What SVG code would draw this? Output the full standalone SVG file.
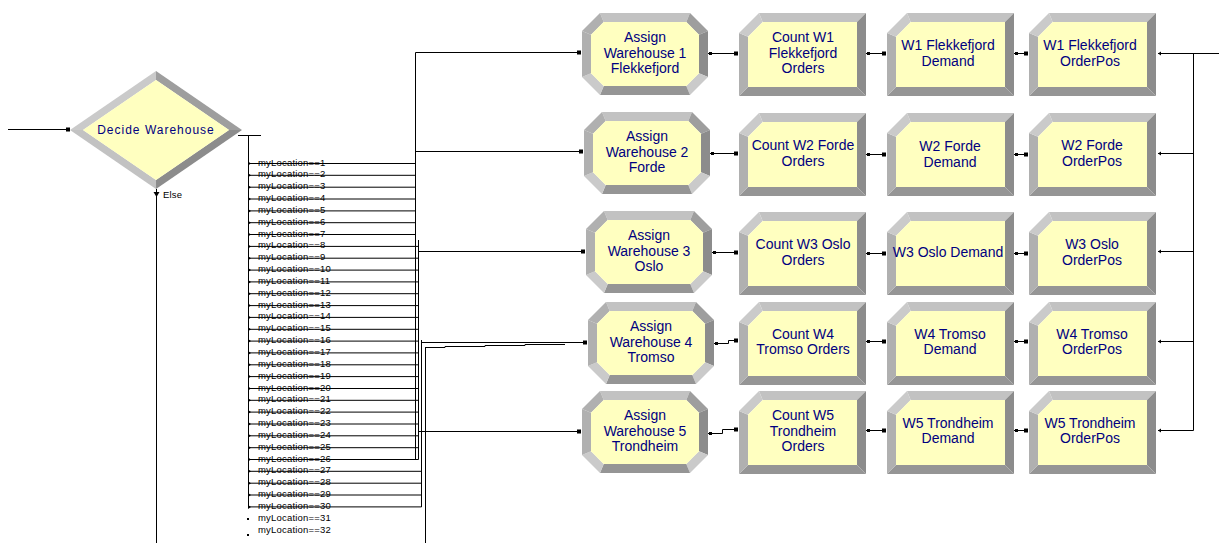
<svg xmlns="http://www.w3.org/2000/svg" xmlns:xlink="http://www.w3.org/1999/xlink" width="1219" height="543" viewBox="0 0 1219 543">
<style>
.nt{font-family:"Liberation Sans",Arial,sans-serif;font-size:14px;fill:#000080;text-anchor:middle}
.dt{font-family:"Liberation Sans",Arial,sans-serif;font-size:12px;fill:#000080;text-anchor:middle;letter-spacing:1px}
.lb{font-family:"Liberation Sans",Arial,sans-serif;font-size:9.5px;fill:#000;letter-spacing:0.2px}
.ln{stroke:#000;stroke-width:1;fill:none}
.b1{fill:#C2C2C2}.b2{fill:#B0B0B0}.b3{fill:#8C8C8C}.b4{fill:#959595}.b5{fill:#CACACA}.b6{fill:#9E9E9E}
.in{fill:#FFFFC0}
</style>
<defs>
<g id="proc">
<polygon class="b1" points="20,0 127,0 118,9 23.7,9"/>
<polygon class="b3" points="127,0 127,83 118,74 118,9"/>
<polygon class="b4" points="127,83 0,83 9,74 118,74"/>
<polygon class="b2" points="0,83 0,20 9,23.7 9,74"/>
<polygon class="b5" points="0,20 20,0 23.7,9 9,23.7"/>
<polygon class="in" points="23.7,9 118,9 118,74 9,74 9,23.7"/>
</g>
<g id="assign">
<polygon class="b1" points="18,0 108,0 104.3,9 21.7,9"/>
<polygon class="b6" points="108,0 126,18 117,21.7 104.3,9"/>
<polygon class="b3" points="126,18 126,64 117,60.3 117,21.7"/>
<polygon class="b5" points="126,64 108,82 104.3,73 117,60.3"/>
<polygon class="b4" points="108,82 18,82 21.7,73 104.3,73"/>
<polygon class="b5" points="18,82 0,64 9,60.3 21.7,73"/>
<polygon class="b2" points="0,64 0,18 9,21.7 9,60.3"/>
<polygon class="b2" points="0,18 18,0 21.7,9 9,21.7"/>
<polygon class="in" points="21.7,9 104.3,9 117,21.7 117,60.3 104.3,73 21.7,73 9,60.3 9,21.7"/>
</g>
<g id="sq"><rect x="-2" y="-2" width="4" height="4" fill="#000"/></g>
<g id="ex"><rect x="0" y="-1.5" width="3" height="3" fill="#000"/></g>
<g id="exr"><polygon points="0,-2 3,0 0,2" fill="#000"/></g>
<g id="exl"><polygon points="0,-2 -3,0 0,2" fill="#000"/></g>
</defs>

<g id="connectors">
<line class="ln" x1="8" y1="129.5" x2="68" y2="129.5"/>
<use xlink:href="#sq" x="68" y="129.5"/>
<line class="ln" x1="156.5" y1="189" x2="156.5" y2="543"/>
<polygon points="153.5,192 159.5,192 156.5,197" fill="#000"/>
<text class="lb" x="163" y="198">Else</text>
<line class="ln" x1="238" y1="135.5" x2="261" y2="135.5"/>
<line class="ln" x1="248.5" y1="135" x2="248.5" y2="506.5"/>
<g id="labels">
<text class="lb" x="258" y="165.5">myLocation==1</text>
<text class="lb" x="258" y="177.3">myLocation==2</text>
<text class="lb" x="258" y="189.2">myLocation==3</text>
<text class="lb" x="258" y="201">myLocation==4</text>
<text class="lb" x="258" y="212.9">myLocation==5</text>
<text class="lb" x="258" y="224.7">myLocation==6</text>
<text class="lb" x="258" y="236.5">myLocation==7</text>
<text class="lb" x="258" y="248.4">myLocation==8</text>
<text class="lb" x="258" y="260.2">myLocation==9</text>
<text class="lb" x="258" y="272.1">myLocation==10</text>
<text class="lb" x="258" y="283.9">myLocation==11</text>
<text class="lb" x="258" y="295.7">myLocation==12</text>
<text class="lb" x="258" y="307.6">myLocation==13</text>
<text class="lb" x="258" y="319.4">myLocation==14</text>
<text class="lb" x="258" y="331.3">myLocation==15</text>
<text class="lb" x="258" y="343.1">myLocation==16</text>
<text class="lb" x="258" y="354.9">myLocation==17</text>
<text class="lb" x="258" y="366.8">myLocation==18</text>
<text class="lb" x="258" y="378.6">myLocation==19</text>
<text class="lb" x="258" y="390.5">myLocation==20</text>
<text class="lb" x="258" y="402.3">myLocation==21</text>
<text class="lb" x="258" y="414.1">myLocation==22</text>
<text class="lb" x="258" y="426">myLocation==23</text>
<text class="lb" x="258" y="437.8">myLocation==24</text>
<text class="lb" x="258" y="449.7">myLocation==25</text>
<text class="lb" x="258" y="461.5">myLocation==26</text>
<text class="lb" x="258" y="473.3">myLocation==27</text>
<text class="lb" x="258" y="485.2">myLocation==28</text>
<text class="lb" x="258" y="497">myLocation==29</text>
<text class="lb" x="258" y="508.9">myLocation==30</text>
<text class="lb" x="258" y="520.7">myLocation==31</text>
<text class="lb" x="258" y="532.5">myLocation==32</text>
</g>
<path class="ln" d="M248,163.5H415.5M248,175.3H415.5M248,187.2H415.5M248,199H415.5M248,210.9H415.5M248,222.7H415.5M248,234.5H415.5
M248,246.4H418.5M248,258.2H418.5M248,270.1H418.5M248,281.9H418.5M248,293.7H418.5M248,305.6H418.5M248,317.4H418.5M248,329.3H418.5
M248,341.1H418.5M248,352.9H418.5M248,364.8H418.5M248,376.6H418.5M248,388.5H418.5M248,400.3H418.5M248,412.1H418.5M248,424H418.5
M248,435.8H418.5M248,447.7H418.5M248,459.5H418.5
M248,471.3H421.5M248,483.2H421.5M248,495H421.5M248,506.9H421.5"/>
<g>
<use xlink:href="#exr" x="248" y="163.5"/><use xlink:href="#exr" x="248" y="175.3"/><use xlink:href="#exr" x="248" y="187.2"/><use xlink:href="#exr" x="248" y="199"/>
<use xlink:href="#exr" x="248" y="210.9"/><use xlink:href="#exr" x="248" y="222.7"/><use xlink:href="#exr" x="248" y="234.5"/><use xlink:href="#exr" x="248" y="246.4"/>
<use xlink:href="#exr" x="248" y="258.2"/><use xlink:href="#exr" x="248" y="270.1"/><use xlink:href="#exr" x="248" y="281.9"/><use xlink:href="#exr" x="248" y="293.7"/>
<use xlink:href="#exr" x="248" y="305.6"/><use xlink:href="#exr" x="248" y="317.4"/><use xlink:href="#exr" x="248" y="329.3"/><use xlink:href="#exr" x="248" y="341.1"/>
<use xlink:href="#exr" x="248" y="352.9"/><use xlink:href="#exr" x="248" y="364.8"/><use xlink:href="#exr" x="248" y="376.6"/><use xlink:href="#exr" x="248" y="388.5"/>
<use xlink:href="#exr" x="248" y="400.3"/><use xlink:href="#exr" x="248" y="412.1"/><use xlink:href="#exr" x="248" y="424"/><use xlink:href="#exr" x="248" y="435.8"/>
<use xlink:href="#exr" x="248" y="447.7"/><use xlink:href="#exr" x="248" y="459.5"/><use xlink:href="#exr" x="248" y="471.3"/><use xlink:href="#exr" x="248" y="483.2"/>
<use xlink:href="#exr" x="248" y="495"/><use xlink:href="#exr" x="248" y="506.9"/>
<rect x="247" y="518" width="2" height="2" fill="#000"/><rect x="247" y="534" width="2" height="2" fill="#000"/>
</g>
<line class="ln" x1="415.5" y1="52.5" x2="415.5" y2="459.5"/>
<line class="ln" x1="418.5" y1="240" x2="418.5" y2="459.5"/>
<line class="ln" x1="421.5" y1="340" x2="421.5" y2="507"/>
<line class="ln" x1="425.5" y1="347" x2="425.5" y2="543"/>
<line class="ln" x1="415.5" y1="52.5" x2="580" y2="52.5"/>
<use xlink:href="#sq" x="579" y="52.5"/>
<line class="ln" x1="415.5" y1="151.5" x2="582" y2="151.5"/>
<use xlink:href="#sq" x="581" y="151.5"/>
<line class="ln" x1="418.5" y1="251.5" x2="584" y2="251.5"/>
<use xlink:href="#sq" x="583" y="251.5"/>
<line class="ln" x1="421.5" y1="342.5" x2="586" y2="342.5"/>
<use xlink:href="#sq" x="585" y="342.5"/>
<polyline class="ln" points="425.5,347.5 445,347.5 445,346.5 485,346.5 485,345.5 525,345.5 525,344.5 565,344.5"/>
<line class="ln" x1="418.5" y1="431.5" x2="580" y2="431.5"/>
<use xlink:href="#sq" x="579" y="431.5"/>
<line class="ln" x1="708" y1="53.5" x2="737" y2="53.5"/><use xlink:href="#ex" x="709" y="53.5"/><use xlink:href="#sq" x="736" y="53.5"/>
<line class="ln" x1="866" y1="53.5" x2="884" y2="53.5"/><use xlink:href="#ex" x="867" y="53.5"/><use xlink:href="#sq" x="884" y="53.5"/>
<line class="ln" x1="1014" y1="53.5" x2="1027" y2="53.5"/><use xlink:href="#ex" x="1015" y="53.5"/><use xlink:href="#sq" x="1026" y="53.5"/>
<line class="ln" x1="710" y1="153.5" x2="737" y2="153.5"/><use xlink:href="#ex" x="711" y="153.5"/><use xlink:href="#sq" x="736" y="153.5"/>
<line class="ln" x1="866" y1="154.5" x2="884" y2="154.5"/><use xlink:href="#ex" x="867" y="154.5"/><use xlink:href="#sq" x="884" y="154.5"/>
<line class="ln" x1="1014" y1="154.5" x2="1027" y2="154.5"/><use xlink:href="#ex" x="1015" y="154.5"/><use xlink:href="#sq" x="1026" y="154.5"/>
<line class="ln" x1="712" y1="252.5" x2="737" y2="252.5"/><use xlink:href="#ex" x="713" y="252.5"/><use xlink:href="#sq" x="736" y="252.5"/>
<line class="ln" x1="866" y1="253.5" x2="884" y2="253.5"/><use xlink:href="#ex" x="867" y="253.5"/><use xlink:href="#sq" x="884" y="253.5"/>
<line class="ln" x1="1014" y1="253.5" x2="1027" y2="253.5"/><use xlink:href="#ex" x="1015" y="253.5"/><use xlink:href="#sq" x="1026" y="253.5"/>
<polyline class="ln" points="714,343.5 728.5,343.5 728.5,340.5 737,340.5"/><use xlink:href="#ex" x="715" y="343.5"/><use xlink:href="#sq" x="736" y="340.5"/>
<line class="ln" x1="866" y1="341.5" x2="884" y2="341.5"/><use xlink:href="#ex" x="867" y="341.5"/><use xlink:href="#sq" x="884" y="341.5"/>
<line class="ln" x1="1014" y1="341.5" x2="1027" y2="341.5"/><use xlink:href="#ex" x="1015" y="341.5"/><use xlink:href="#sq" x="1026" y="341.5"/>
<polyline class="ln" points="708,433.5 722.5,433.5 722.5,429.5 737,429.5"/><use xlink:href="#ex" x="709" y="433.5"/><use xlink:href="#sq" x="736" y="429.5"/>
<line class="ln" x1="866" y1="430.5" x2="884" y2="430.5"/><use xlink:href="#ex" x="867" y="430.5"/><use xlink:href="#sq" x="884" y="430.5"/>
<line class="ln" x1="1014" y1="430.5" x2="1027" y2="430.5"/><use xlink:href="#ex" x="1015" y="430.5"/><use xlink:href="#sq" x="1026" y="430.5"/>
<path class="ln" d="M1158,53.5H1219M1193.5,53.5V430.5M1158,153.5H1193.5M1158,251.5H1193.5M1158,341.5H1193.5M1158,430.5H1193.5"/>
<use xlink:href="#exl" x="1161" y="53.5"/><use xlink:href="#exl" x="1161" y="153.5"/><use xlink:href="#exl" x="1161" y="251.5"/><use xlink:href="#exl" x="1161" y="341.5"/><use xlink:href="#exl" x="1161" y="430.5"/>
</g>

<g id="decide">
<polygon class="b5" points="70,130 156,71 156,80 83,130"/>
<polygon class="b6" points="156,71 242,130 229,130 156,80"/>
<polygon class="b3" points="242,130 156,189 156,180 229,130"/>
<polygon class="b1" points="156,189 70,130 83,130 156,180"/>
<polygon class="in" points="83,130 156,80 229,130 156,180"/>
<text class="dt" x="156" y="134">Decide Warehouse</text>
</g>

<g id="assign1"><use xlink:href="#assign" x="582" y="13"/>
<text class="nt" x="645" y="42">Assign</text><text class="nt" x="645" y="58">Warehouse 1</text><text class="nt" x="645" y="73">Flekkefjord</text></g>
<g id="assign2"><use xlink:href="#assign" x="584" y="112"/>
<text class="nt" x="647" y="141">Assign</text><text class="nt" x="647" y="157">Warehouse 2</text><text class="nt" x="647" y="172">Forde</text></g>
<g id="assign3"><use xlink:href="#assign" x="586" y="211"/>
<text class="nt" x="649" y="240">Assign</text><text class="nt" x="649" y="256">Warehouse 3</text><text class="nt" x="649" y="271">Oslo</text></g>
<g id="assign4"><use xlink:href="#assign" x="588" y="302"/>
<text class="nt" x="651" y="331">Assign</text><text class="nt" x="651" y="347">Warehouse 4</text><text class="nt" x="651" y="362">Tromso</text></g>
<g id="assign5"><use xlink:href="#assign" x="582" y="391"/>
<text class="nt" x="645" y="420">Assign</text><text class="nt" x="645" y="436">Warehouse 5</text><text class="nt" x="645" y="451">Trondheim</text></g>

<g id="count1"><use xlink:href="#proc" x="739" y="13"/>
<text class="nt" x="803" y="42">Count W1</text><text class="nt" x="803" y="58">Flekkefjord</text><text class="nt" x="803" y="73">Orders</text></g>
<g id="count2"><use xlink:href="#proc" x="739" y="113"/>
<text class="nt" x="803" y="150">Count W2 Forde</text><text class="nt" x="803" y="166">Orders</text></g>
<g id="count3"><use xlink:href="#proc" x="739" y="212"/>
<text class="nt" x="803" y="249">Count W3 Oslo</text><text class="nt" x="803" y="265">Orders</text></g>
<g id="count4"><use xlink:href="#proc" x="739" y="302"/>
<text class="nt" x="803" y="339">Count W4</text><text class="nt" x="803" y="354">Tromso Orders</text></g>
<g id="count5"><use xlink:href="#proc" x="739" y="391"/>
<text class="nt" x="803" y="420">Count W5</text><text class="nt" x="803" y="436">Trondheim</text><text class="nt" x="803" y="451">Orders</text></g>

<g id="demand1"><use xlink:href="#proc" x="887" y="13"/>
<text class="nt" x="948" y="50">W1 Flekkefjord</text><text class="nt" x="948" y="66">Demand</text></g>
<g id="demand2"><use xlink:href="#proc" x="887" y="113"/>
<text class="nt" x="950" y="151">W2 Forde</text><text class="nt" x="950" y="167">Demand</text></g>
<g id="demand3"><use xlink:href="#proc" x="887" y="212"/>
<text class="nt" x="948" y="257">W3 Oslo Demand</text></g>
<g id="demand4"><use xlink:href="#proc" x="887" y="302"/>
<text class="nt" x="950" y="339">W4 Tromso</text><text class="nt" x="950" y="354">Demand</text></g>
<g id="demand5"><use xlink:href="#proc" x="887" y="391"/>
<text class="nt" x="948" y="428">W5 Trondheim</text><text class="nt" x="948" y="443">Demand</text></g>

<g id="orderpos1"><use xlink:href="#proc" x="1029" y="13"/>
<text class="nt" x="1090" y="50">W1 Flekkefjord</text><text class="nt" x="1090" y="66">OrderPos</text></g>
<g id="orderpos2"><use xlink:href="#proc" x="1029" y="113"/>
<text class="nt" x="1092" y="150">W2 Forde</text><text class="nt" x="1092" y="166">OrderPos</text></g>
<g id="orderpos3"><use xlink:href="#proc" x="1029" y="212"/>
<text class="nt" x="1092" y="249">W3 Oslo</text><text class="nt" x="1092" y="265">OrderPos</text></g>
<g id="orderpos4"><use xlink:href="#proc" x="1029" y="302"/>
<text class="nt" x="1092" y="339">W4 Tromso</text><text class="nt" x="1092" y="354">OrderPos</text></g>
<g id="orderpos5"><use xlink:href="#proc" x="1029" y="391"/>
<text class="nt" x="1090" y="428">W5 Trondheim</text><text class="nt" x="1090" y="443">OrderPos</text></g>
</svg>
